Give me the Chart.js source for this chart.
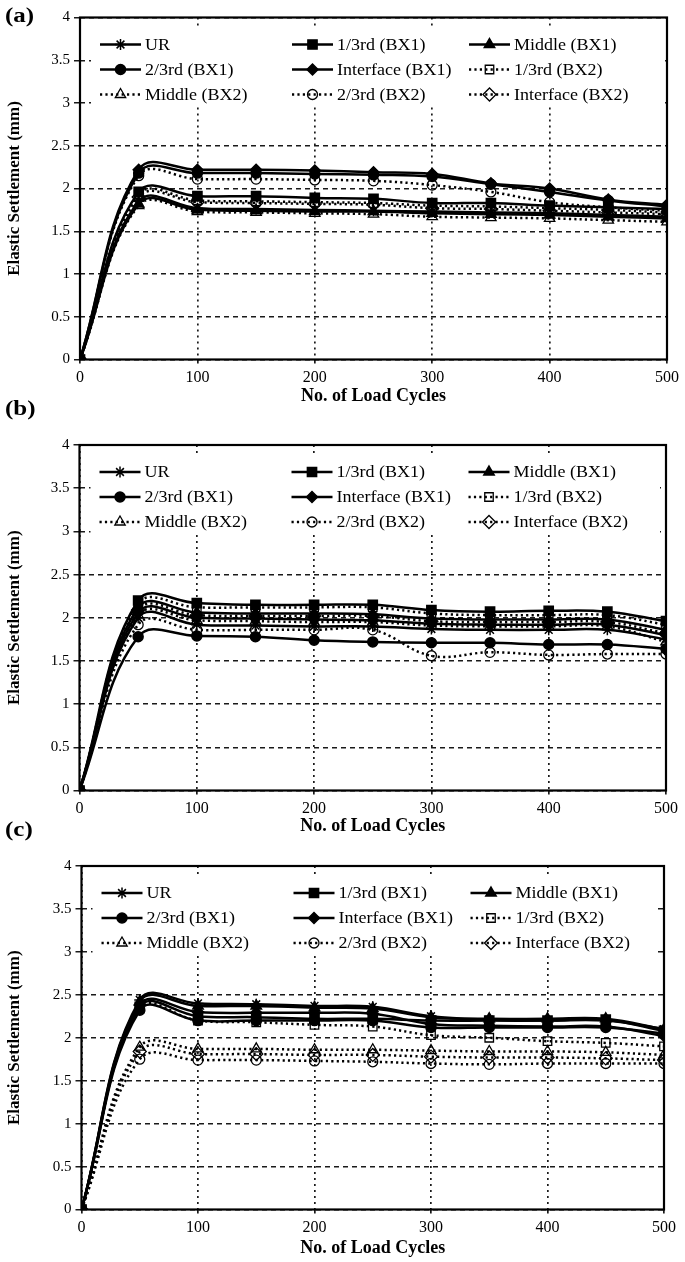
<!DOCTYPE html>
<html>
<head>
<meta charset="utf-8">
<script src="https://cdn.jsdelivr.net/npm/chart.js@4.4.1/dist/chart.umd.min.js"></script>
<style>
html,body{margin:0;padding:0;background:#fff;width:685px;height:1262px;overflow:hidden;position:relative;}
canvas{position:absolute;left:0;}
.pl{position:absolute;left:5px;font:bold 20px "Liberation Serif",serif;color:#000;z-index:5;line-height:22px;transform:scaleX(1.25);transform-origin:0 0;}
</style>
</head>
<body>
<canvas id="ca"></canvas>
<canvas id="cb"></canvas>
<canvas id="cc"></canvas>
<div class="pl" style="top:4px">(a)</div>
<div class="pl" style="top:397px">(b)</div>
<div class="pl" style="top:818px">(c)</div>
<script>
// ---------- data ----------
const cycles = [0, 50, 100, 150, 200, 250, 300, 350, 400, 450, 500];
const xTicks = [0, 100, 200, 300, 400, 500];
const yTicks = [0, 0.5, 1, 1.5, 2, 2.5, 3, 3.5, 4];
const seriesNames = ['UR', '1/3rd (BX1)', 'Middle (BX1)', '2/3rd (BX1)', 'Interface (BX1)',
                     '1/3rd (BX2)', 'Middle (BX2)', '2/3rd (BX2)', 'Interface (BX2)'];

// Panel (a)
const a_UR          = [0, 1.85, 1.77, 1.76, 1.75, 1.74, 1.73, 1.72, 1.71, 1.69, 1.67];
const a_third1BX1   = [0, 1.96, 1.91, 1.91, 1.89, 1.88, 1.83, 1.83, 1.80, 1.78, 1.76];
const a_middleBX1   = [0, 1.82, 1.75, 1.74, 1.73, 1.73, 1.71, 1.70, 1.69, 1.67, 1.65];
const a_third2BX1   = [0, 2.18, 2.18, 2.18, 2.17, 2.16, 2.14, 2.05, 1.96, 1.86, 1.79];
const a_interfBX1   = [0, 2.22, 2.22, 2.22, 2.21, 2.19, 2.17, 2.06, 2.00, 1.87, 1.81];
const a_third1BX2   = [0, 1.93, 1.86, 1.85, 1.84, 1.83, 1.80, 1.79, 1.77, 1.75, 1.72];
const a_middleBX2   = [0, 1.80, 1.73, 1.72, 1.71, 1.70, 1.67, 1.66, 1.65, 1.63, 1.61];
const a_third2BX2   = [0, 2.15, 2.11, 2.11, 2.10, 2.09, 2.04, 1.96, 1.84, 1.78, 1.74];
const a_interfBX2   = [0, 1.90, 1.84, 1.83, 1.82, 1.81, 1.77, 1.76, 1.74, 1.72, 1.70];

// Panel (b)
const b_UR          = [0, 2.00, 1.92, 1.91, 1.90, 1.90, 1.87, 1.86, 1.86, 1.86, 1.75];
const b_third1BX1   = [0, 2.20, 2.17, 2.15, 2.15, 2.15, 2.09, 2.07, 2.08, 2.07, 1.96];
const b_middleBX1   = [0, 2.12, 2.06, 2.05, 2.05, 2.04, 1.99, 1.98, 1.98, 1.98, 1.86];
const b_third2BX1   = [0, 1.78, 1.79, 1.78, 1.74, 1.72, 1.71, 1.71, 1.69, 1.69, 1.64];
const b_interfBX1   = [0, 2.06, 2.00, 1.99, 1.98, 1.97, 1.93, 1.92, 1.92, 1.92, 1.80];
const b_third1BX2   = [0, 2.16, 2.12, 2.12, 2.12, 2.12, 2.05, 2.03, 2.03, 2.03, 1.92];
const b_middleBX2   = [0, 2.03, 1.97, 1.96, 1.95, 1.95, 1.91, 1.90, 1.90, 1.90, 1.72];
const b_third2BX2   = [0, 1.92, 1.86, 1.86, 1.86, 1.86, 1.56, 1.60, 1.57, 1.58, 1.58];
const b_interfBX2   = [0, 2.09, 2.03, 2.02, 2.02, 2.02, 1.96, 1.95, 1.95, 1.95, 1.82];

// Panel (c)
const c_UR          = [0, 2.44, 2.40, 2.39, 2.37, 2.36, 2.25, 2.21, 2.20, 2.20, 2.10];
const c_third1BX1   = [0, 2.36, 2.25, 2.24, 2.22, 2.22, 2.20, 2.20, 2.20, 2.21, 2.08];
const c_middleBX1   = [0, 2.42, 2.37, 2.37, 2.35, 2.34, 2.24, 2.22, 2.22, 2.22, 2.10];
const c_third2BX1   = [0, 2.32, 2.20, 2.20, 2.20, 2.20, 2.12, 2.12, 2.12, 2.12, 2.05];
const c_interfBX1   = [0, 2.38, 2.30, 2.29, 2.29, 2.28, 2.16, 2.14, 2.13, 2.13, 2.02];
const c_third1BX2   = [0, 2.34, 2.20, 2.18, 2.15, 2.13, 2.03, 2.00, 1.96, 1.94, 1.90];
const c_middleBX2   = [0, 1.89, 1.87, 1.87, 1.86, 1.86, 1.85, 1.84, 1.84, 1.83, 1.80];
const c_third2BX2   = [0, 1.75, 1.74, 1.74, 1.73, 1.72, 1.70, 1.69, 1.70, 1.70, 1.70];
const c_interfBX2   = [0, 1.84, 1.81, 1.81, 1.80, 1.80, 1.78, 1.77, 1.77, 1.76, 1.74];

// ---------- styles ----------
const STYLE = {
  'UR':              {ps: 'star',     r: 5.5, open: false, dash: false},
  '1/3rd (BX1)':     {ps: 'rect',     r: 6.5, open: false, dash: false},
  'Middle (BX1)':    {ps: 'triangle', r: 6.0, open: false, dash: false},
  '2/3rd (BX1)':     {ps: 'circle',   r: 5.0, open: false, dash: false},
  'Interface (BX1)': {ps: 'rectRot',  r: 5.5, open: false, dash: false},
  '1/3rd (BX2)':     {ps: 'rect',     r: 6.0, open: true,  dash: true},
  'Middle (BX2)':    {ps: 'triangle', r: 6.0, open: true,  dash: true},
  '2/3rd (BX2)':     {ps: 'circle',   r: 5.0, open: true,  dash: true},
  'Interface (BX2)': {ps: 'rectRot',  r: 6.5, open: true,  dash: true}
};
const SERIF = '"Liberation Serif", "Times New Roman", serif';
const LINE_DASH = [2.2, 3.2];

const legendPlugin = {
  id: 'gridLegend',
  beforeDatasetsDraw(chart) {
    const {ctx, chartArea: ca} = chart;
    ctx.save();
    ctx.fillStyle = '#fff';
    ctx.fillRect(ca.left + 11, ca.top + 10, ca.right - ca.left - 17, 79);
    const colX = [20, 212, 389];
    const rowY = [27, 52, 77];
    ctx.font = '17px ' + SERIF;
    ctx.textBaseline = 'middle';
    ctx.textAlign = 'left';
    seriesNames.forEach((name, i) => {
      const st = STYLE[name];
      const x0 = ca.left + colX[i % 3];
      const y0 = ca.top + rowY[Math.floor(i / 3)];
      ctx.save();
      ctx.strokeStyle = '#000';
      ctx.lineWidth = 2.5;
      ctx.setLineDash(st.dash ? LINE_DASH : []);
      ctx.beginPath();
      ctx.moveTo(x0, y0);
      ctx.lineTo(x0 + 41, y0);
      ctx.stroke();
      ctx.restore();
      ctx.save();
      ctx.setLineDash([]);
      ctx.strokeStyle = '#000';
      ctx.fillStyle = st.open ? 'rgba(255,255,255,0)' : '#000';
      ctx.lineWidth = st.open ? 1.3 : 1.5;
      if (Chart.helpers && Chart.helpers.drawPoint) {
        Chart.helpers.drawPoint(ctx, {pointStyle: st.ps, radius: st.r, rotation: 0, borderWidth: ctx.lineWidth}, x0 + 20.5, y0);
      }
      ctx.restore();
      ctx.save();
      ctx.translate(x0 + 45, y0 + 1);
      ctx.scale(1.06, 1);
      ctx.fillStyle = '#000';
      ctx.fillText(name, 0, 0);
      ctx.restore();
    });
    ctx.restore();
  }
};

const framePlugin = {
  id: 'frame',
  afterDatasetsDraw(chart) {
    const {ctx, chartArea: ca} = chart;
    ctx.save();
    ctx.strokeStyle = '#000';
    ctx.lineWidth = 2.2;
    ctx.setLineDash([]);
    ctx.strokeRect(ca.left, ca.top, ca.right - ca.left, ca.bottom - ca.top);
    ctx.restore();
  }
};

function makeChart(id, L, series) {
  const canvas = document.getElementById(id);
  canvas.width = 685;
  canvas.height = L.h;
  canvas.style.width = '685px';
  canvas.style.height = L.h + 'px';
  canvas.style.top = L.top + 'px';
  const datasets = seriesNames.map((name, i) => {
    const st = STYLE[name];
    return {
      label: name,
      data: cycles.map((c, j) => ({x: c, y: series[i][j]})),
      borderColor: '#000',
      borderWidth: 2.5,
      borderDash: st.dash ? LINE_DASH : [],
      tension: 0.4,
      fill: false,
      pointStyle: st.ps,
      pointRadius: st.r,
      pointBackgroundColor: st.open ? 'rgba(255,255,255,0)' : '#000',
      pointBorderColor: '#000',
      pointBorderWidth: st.open ? 1.3 : 1.5
    };
  });
  return new Chart(canvas, {
    type: 'line',
    data: {datasets},
    options: {
      responsive: false,
      animation: false,
      devicePixelRatio: 1,
      layout: {padding: {top: L.plotTop - L.top, right: 685 - L.plotRight, left: 0, bottom: 0}},
      plugins: {legend: {display: false}, tooltip: {enabled: false}},
      scales: {
        x: {
          type: 'linear', min: 0, max: 500,
          afterBuildTicks: s => { s.ticks = xTicks.map(v => ({value: v})); },
          afterFit: s => { s.height = L.top + L.h - L.plotBottom; },
          grid: {color: '#1a1a1a', lineWidth: 1.7, drawTicks: true, tickLength: 4, borderDash: [2, 4]},
          border: {display: false, dash: [2, 4]},
          ticks: {color: '#000', font: {family: SERIF, size: 16}, padding: 5, maxRotation: 0, callback: v => String(v)},
          title: {display: true, text: 'No. of Load Cycles', color: '#000',
                  font: {family: SERIF, size: 18, weight: 'bold'}, padding: {top: 0, bottom: 3}}
        },
        y: {
          type: 'linear', min: 0, max: 4,
          afterBuildTicks: s => { s.ticks = yTicks.map(v => ({value: v})); },
          afterFit: s => { s.width = L.plotLeft; },
          grid: {color: '#1a1a1a', lineWidth: 1.5, drawTicks: true, tickLength: 6, borderDash: [5, 4]},
          border: {display: false, dash: [5, 4]},
          ticks: {color: '#000', font: {family: SERIF, size: 15}, padding: 4, callback: v => String(v)},
          title: {display: true, text: 'Elastic Settlement (mm)', color: '#000',
                  font: {family: SERIF, size: 17, weight: 'bold'}, padding: {top: 4, bottom: 0}}
        }
      }
    },
    plugins: [legendPlugin, framePlugin]
  });
}

makeChart('ca', {top: 0, h: 410, plotTop: 17.5, plotBottom: 359.5, plotLeft: 80, plotRight: 667},
  [a_UR, a_third1BX1, a_middleBX1, a_third2BX1, a_interfBX1, a_third1BX2, a_middleBX2, a_third2BX2, a_interfBX2]);
makeChart('cb', {top: 418, h: 422, plotTop: 445, plotBottom: 790.5, plotLeft: 79.5, plotRight: 666},
  [b_UR, b_third1BX1, b_middleBX1, b_third2BX1, b_interfBX1, b_third1BX2, b_middleBX2, b_third2BX2, b_interfBX2]);
makeChart('cc', {top: 840, h: 422, plotTop: 866, plotBottom: 1209.5, plotLeft: 81.5, plotRight: 664},
  [c_UR, c_third1BX1, c_middleBX1, c_third2BX1, c_interfBX1, c_third1BX2, c_middleBX2, c_third2BX2, c_interfBX2]);
</script>
</body>
</html>
